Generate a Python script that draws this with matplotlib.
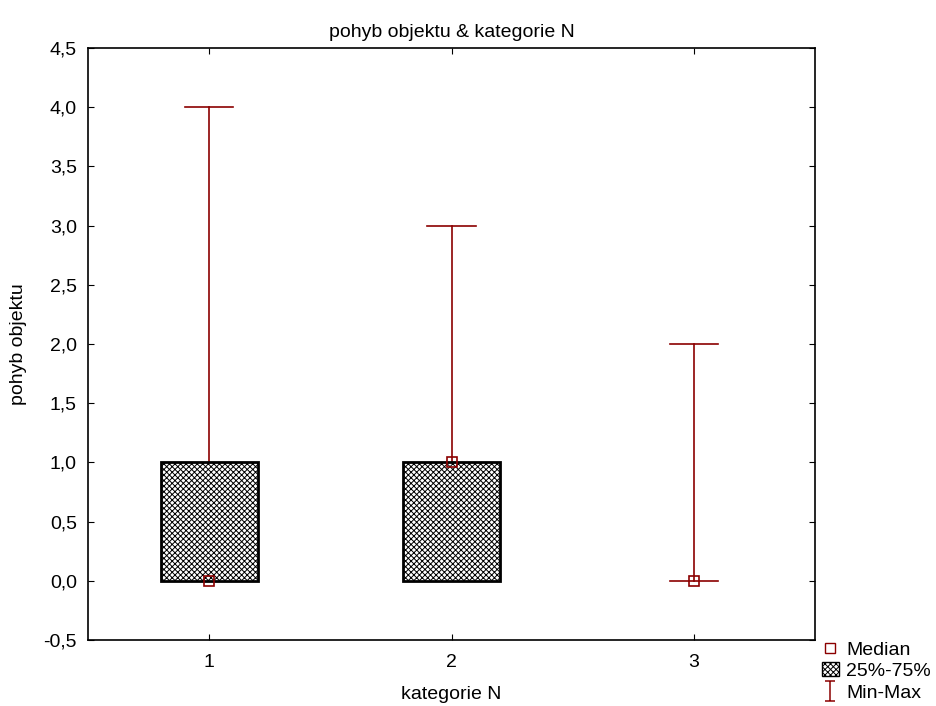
import matplotlib.pyplot as plt
import numpy as np
from matplotlib.lines import Line2D
from matplotlib.patches import Patch
from matplotlib.path import Path
from matplotlib.ticker import FuncFormatter

plt.rcParams['font.family'] = ['Liberation Sans', 'DejaVu Sans']
plt.rcParams['hatch.linewidth'] = 0.7
plt.rcParams['hatch.color'] = '#666666'

# data
categories = [1, 2, 3]
medians = [0.0, 1.0, 0.0]
q25 = [0.0, 0.0, 0.0]
q75 = [1.0, 1.0, 0.0]
mins = [0.0, 0.0, 0.0]
maxs = [4.0, 3.0, 2.0]

red = '#8b0000'
fs = 14

fig = plt.figure(figsize=(9.36, 7.06), dpi=100)
ax = fig.add_axes([88/936, 1 - 640/706, (815-88)/936, (640-48)/706])

box_w = 0.4
cap_w = 0.2
for i, x in enumerate(categories):
    # whisker + caps
    ax.plot([x, x], [mins[i], maxs[i]], color=red, linewidth=1.2, zorder=1)
    ax.plot([x - cap_w/2, x + cap_w/2], [maxs[i], maxs[i]], color=red, linewidth=1.2, zorder=1)
    ax.plot([x - cap_w/2, x + cap_w/2], [mins[i], mins[i]], color=red, linewidth=1.2, zorder=1)
    # box
    h = q75[i] - q25[i]
    if h > 0:
        ax.bar(x, h, bottom=q25[i], width=box_w, facecolor='white', edgecolor='black',
               hatch='xxxxxx', linewidth=2, zorder=2)
    # median marker
    ax.plot(x, medians[i], marker='s', markersize=7, markerfacecolor='none',
            markeredgecolor=red, markeredgewidth=1.2, zorder=3, linestyle='none')

ax.set_xlim(0.5, 3.5)
ax.set_ylim(-0.5, 4.5)
ax.set_xticks(categories)
ax.set_yticks(np.arange(-0.5, 4.51, 0.5))
ax.yaxis.set_major_formatter(FuncFormatter(lambda v, pos: f"{v:.1f}".replace('.', ',')))
ax.tick_params(direction='in', length=4, labelsize=fs, top=True, right=True)
ax.tick_params(axis='y', pad=8)
ax.tick_params(axis='x', pad=10)
for s in ax.spines.values():
    s.set_linewidth(1.2)

ax.set_title('pohyb objektu & kategorie N', fontsize=fs, pad=8)
ax.set_xlabel('kategorie N', fontsize=fs, labelpad=11)
ax.set_ylabel('pohyb objektu', fontsize=fs, labelpad=12)

# I-shaped marker for the min-max legend entry
i_marker = Path([(-0.5, -1), (0.5, -1), (0, -1), (0, 1), (-0.5, 1), (0.5, 1)],
                [Path.MOVETO, Path.LINETO, Path.MOVETO, Path.LINETO, Path.MOVETO, Path.LINETO])

handles = [
    Line2D([], [], marker='s', markerfacecolor='none', markeredgecolor=red,
           markersize=7, linestyle='none'),
    Patch(facecolor='white', edgecolor='black', hatch='xxxxxx'),
    Line2D([], [], marker=i_marker, color=red, markerfacecolor='none',
           markersize=14, markeredgewidth=1.1, linestyle='none'),
]
fig.legend(handles, ['Median', '25%-75%', 'Min-Max'], loc='lower left',
           bbox_to_anchor=(808/936, -0.013), frameon=False, fontsize=fs,
           handlelength=0.9, handletextpad=0.35, labelspacing=0.2, borderpad=0.2)

fig.savefig('out.png', dpi=100)
